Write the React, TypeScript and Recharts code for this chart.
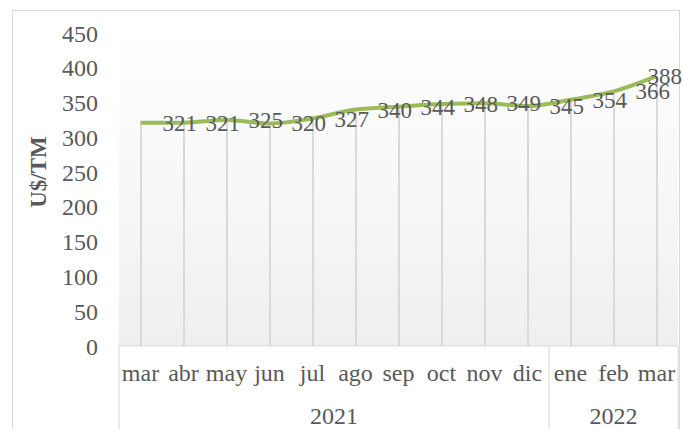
import { ComposedChart, Line, Bar, XAxis, YAxis, CartesianGrid, LabelList } from "recharts";

const months = ["mar", "abr", "may", "jun", "jul", "ago", "sep", "oct", "nov", "dic", "ene", "feb", "mar"];
const years = ["2021", "2021", "2021", "2021", "2021", "2021", "2021", "2021", "2021", "2021", "2022", "2022", "2022"];
const prices = [321, 321, 325, 320, 327, 340, 344, 348, 349, 345, 354, 366, 388];
const yTicks = [0, 50, 100, 150, 200, 250, 300, 350, 400, 450];

const data = months.map((m, i) => ({ key: `${m}-${years[i]}`, month: m, year: years[i], price: prices[i] }));

const W = 683;
const H = 429;
const M = { top: 33, right: 5, bottom: 3, left: 0 };
const Y_W = 119;
const AXIS_H = 40;
const band = (W - M.left - M.right - Y_W) / months.length;
const plotBottom = H - M.bottom - AXIS_H * 2;

const FONT = "'Liberation Serif', 'Times New Roman', serif";
const TXT = "#595959";
const FS = 24;
const LFS = 23;

const MonthTick = (props: any) => {
  const { x, y, payload, index } = props;
  const prev = years[index - 1];
  const isFirst = index === 0 || prev !== years[index];
  const isLast = index === months.length - 1;
  return (
    <g>
      {isFirst && (
        <line x1={x - band / 2} x2={x - band / 2} y1={plotBottom} y2={H} stroke="#d9d9d9" />
      )}
      {isLast && (
        <line x1={x + band / 2} x2={x + band / 2} y1={plotBottom} y2={H} stroke="#d9d9d9" />
      )}
      <text x={x} y={y} dy={27} textAnchor="middle" fill={TXT} fontSize={FS} fontFamily={FONT}>
        {payload.value.split("-")[0]}
      </text>
    </g>
  );
};

const YearTick = (props: any) => {
  const { x, y, index } = props;
  const yr = years[index];
  const idx = years.map((v, i) => (v === yr ? i : -1)).filter((i) => i >= 0);
  const mid = (idx[0] + idx[idx.length - 1]) / 2;
  if (index !== Math.floor(mid)) return null;
  const cx = x + (mid - index) * band;
  return (
    <text x={cx} y={y} dy={30} textAnchor="middle" fill={TXT} fontSize={FS} fontFamily={FONT}>
      {yr}
    </text>
  );
};

const PriceLabel = (props: any) => {
  const { x, y, value } = props;
  const w = String(value).length * LFS * 0.5;
  let lx = x + 22;
  if (lx + w > W - 1) lx = W - 1 - w;
  return (
    <text x={lx} y={y} dy={8} textAnchor="start" fill={TXT} fontSize={LFS} fontFamily={FONT}>
      {value}
    </text>
  );
};

const YTitle = (props: any) => {
  const { viewBox } = props;
  const cx = viewBox.x + 38;
  const cy = 172;
  return (
    <text
      x={cx}
      y={cy}
      transform={`rotate(-90 ${cx} ${cy})`}
      textAnchor="middle"
      dominantBaseline="central"
      fill={TXT}
      fontSize={23}
      fontWeight="bold"
      fontFamily={FONT}
    >
      U$/TM
    </text>
  );
};

export default function App() {
  return (
    <div style={{ position: "fixed", left: 0, top: 0, width: W, height: H, overflow: "hidden", background: "#fff" }}>
      <div
        style={{
          position: "absolute",
          left: 12,
          top: 10,
          width: 668,
          height: 440,
          border: "1px solid #d9d9d9",
          boxSizing: "border-box",
        }}
      />
      <div style={{ position: "absolute", left: 0, top: 0 }}>
        <ComposedChart width={W} height={H} data={data} margin={M}>
          <defs>
            <linearGradient id="plotBg" x1="0" y1="0" x2="0" y2="1">
              <stop offset="0%" stopColor="#ffffff" />
              <stop offset="100%" stopColor="#efefef" />
            </linearGradient>
          </defs>
          <CartesianGrid horizontal={false} vertical={false} fill="url(#plotBg)" />
          <XAxis
            xAxisId="m"
            dataKey="key"
            height={AXIS_H}
            axisLine={{ stroke: "#d9d9d9" }}
            tickLine={false}
            tick={<MonthTick />}
            interval={0}
          />
          <XAxis
            xAxisId="y"
            dataKey="key"
            height={AXIS_H}
            axisLine={false}
            tickLine={false}
            tick={<YearTick />}
            interval={0}
          />
          <YAxis
            yAxisId="v"
            width={Y_W}
            domain={[0, 450]}
            ticks={yTicks}
            axisLine={false}
            tickLine={false}
            tickSize={0}
            tickMargin={21}
            tick={{ fill: TXT, fontSize: FS, fontFamily: FONT }}
            label={<YTitle />}
          />
          <Bar xAxisId="m" yAxisId="v" dataKey="price" barSize={2} fill="#d9d9d9" isAnimationActive={false} />
          <Line
            xAxisId="m"
            yAxisId="v"
            type="monotone"
            dataKey="price"
            stroke="#9bbb59"
            strokeWidth={4}
            dot={false}
            isAnimationActive={false}
          >
            <LabelList dataKey="price" content={<PriceLabel />} />
          </Line>
        </ComposedChart>
      </div>
    </div>
  );
}
